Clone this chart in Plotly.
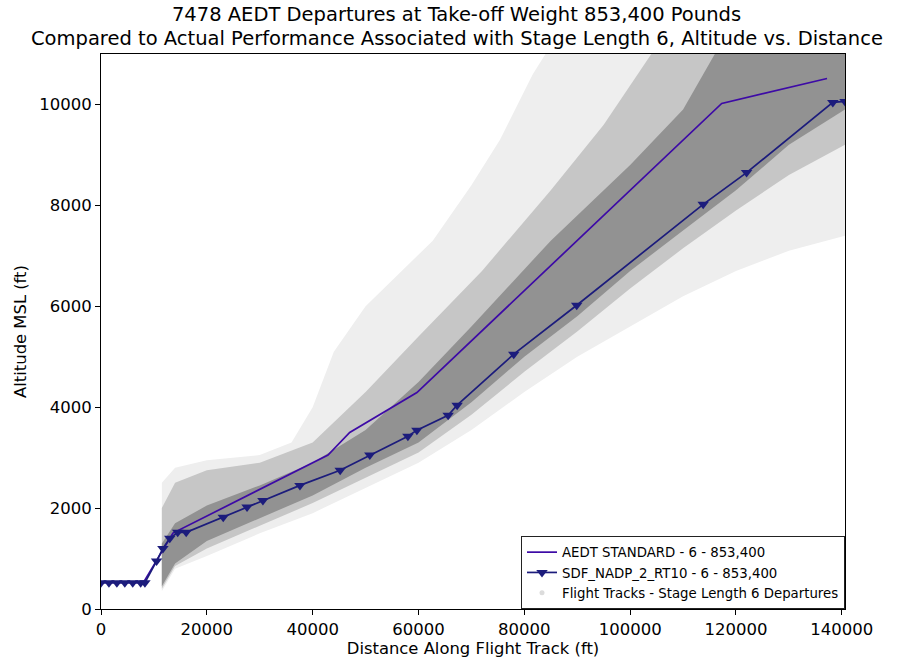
import plotly.graph_objects as go

# ---- data ----
aedt_dist = [0, 8000, 13600, 42900, 47000, 59700, 117300, 137200]
aedt_alt = [520, 520, 1505, 3050, 3500, 4290, 10020, 10515]

sdf_dist = [0, 1500, 3000, 4500, 6000, 7500, 8300, 10500, 11700, 13000, 14500, 16100,
            23100, 27600, 30600, 37600, 45200, 50800, 58000, 59700, 65600, 67300,
            78000, 89900, 113800, 122000, 138300, 140600]
sdf_alt = [520, 520, 520, 520, 520, 520, 520, 950, 1200, 1400, 1520, 1520,
           1820, 2020, 2150, 2450, 2750, 3050, 3425, 3545, 3840, 4040,
           5050, 6020, 8020, 8650, 10040, 10060]

# flight-track cloud envelopes (distance, altitude)
band_x = [11500, 14000, 20000, 30000, 40000, 50000, 60000, 70000, 80000, 90000,
          100000, 110000, 120000, 130000, 140600]
halo_low = [350, 800, 1050, 1500, 1900, 2400, 2900, 3550, 4300, 5000,
            5600, 6200, 6700, 7100, 7400]
mid_low = [400, 850, 1200, 1650, 2100, 2600, 3100, 3850, 4700, 5500,
           6350, 7150, 7900, 8600, 9200]
core_low = [450, 900, 1350, 1800, 2250, 2800, 3300, 4100, 5000, 5800,
            6700, 7500, 8300, 9200, 9900]

halo_up_x = [11500, 14000, 20000, 30000, 36000, 40000, 44000, 50000, 62700, 70000,
             75400, 81600, 84000, 140600]
halo_up = [2500, 2800, 2950, 3050, 3300, 4000, 5100, 6000, 7300, 8400,
           9300, 10600, 11000, 11000]
mid_up_x = [11500, 14000, 20000, 30000, 40000, 50000, 60000, 72000, 85000, 95000,
            104000, 140600]
mid_up = [2000, 2500, 2750, 2900, 3300, 4300, 5400, 6700, 8300, 9600, 11000, 11000]
core_up_x = [11500, 14000, 20000, 30000, 40000, 50000, 60000, 70000, 85000, 100000,
             110000, 116000, 140600]
core_up = [1300, 1700, 2050, 2450, 2900, 3550, 4500, 5600, 7300, 8800, 9900, 11000, 11000]

x_ticks = [0, 20000, 40000, 60000, 80000, 100000, 120000, 140000]
y_ticks = [0, 2000, 4000, 6000, 8000, 10000]

title_line1 = "7478 AEDT Departures at Take-off Weight 853,400 Pounds"
title_line2 = "Compared to Actual Performance Associated with Stage Length 6, Altitude vs. Distance"

fig = go.Figure()


def band(up_x, up_y, low_x, low_y, color):
    xs = list(up_x) + list(reversed(low_x)) + [up_x[0]]
    ys = list(up_y) + list(reversed(low_y)) + [up_y[0]]
    fig.add_trace(go.Scatter(x=xs, y=ys, mode="lines", fill="toself",
                             fillcolor=color, line=dict(width=0),
                             hoverinfo="skip", showlegend=False))


band(halo_up_x, halo_up, band_x, halo_low, "#eeeeee")
band(mid_up_x, mid_up, band_x, mid_low, "#c6c6c6")
band(core_up_x, core_up, band_x, core_low, "#929292")

fig.add_trace(go.Scatter(x=aedt_dist, y=aedt_alt, mode="lines",
                         line=dict(color="#3d0aa6", width=1.7),
                         name="AEDT STANDARD - 6 - 853,400"))
fig.add_trace(go.Scatter(x=sdf_dist, y=sdf_alt, mode="lines+markers",
                         line=dict(color="#1c1c7c", width=1.7),
                         marker=dict(symbol="triangle-down", size=10, color="#1c1c7c"),
                         name="SDF_NADP_2_RT10 - 6 - 853,400"))
fig.add_trace(go.Scatter(x=[None], y=[None], mode="markers",
                         marker=dict(color="#dcdcdc", size=5),
                         name="Flight Tracks - Stage Length 6 Departures"))

font = "DejaVu Sans"
W, H = 913, 664
fig.update_layout(
    width=W, height=H,
    margin=dict(l=101, r=68, t=54, b=55),
    paper_bgcolor="white", plot_bgcolor="white",
    font=dict(family=font, size=16, color="black"),
    title=dict(text=title_line1,
               x=0.5, xanchor="center", xref="container",
               y=1 - 14 / H, yanchor="middle", yref="container",
               font=dict(family=font, size=19.5)),
    showlegend=True,
    legend=dict(x=1, xanchor="right", y=0, yanchor="bottom",
                bgcolor="rgba(255,255,255,0.85)", bordercolor="#222", borderwidth=1,
                font=dict(family=font, size=13.3), tracegroupgap=0,
                itemwidth=30),
)
fig.add_annotation(text=title_line2, xref="paper", yref="paper",
                   x=(456.5 - 101) / 744, y=1 + 16 / 555,
                   xanchor="center", yanchor="middle", showarrow=False,
                   font=dict(family=font, size=19.5, color="black"))
fig.update_xaxes(range=[0, 140600], tickvals=x_ticks, ticktext=[str(v) for v in x_ticks],
                 showgrid=False, zeroline=False, showline=True, linecolor="black",
                 linewidth=1, mirror=True, ticks="outside", ticklen=5, tickcolor="black",
                 title=dict(text="Distance Along Flight Track (ft)", standoff=2,
                            font=dict(size=16.4)),
                 tickfont=dict(size=16.5))
fig.update_yaxes(range=[0, 11000], tickvals=y_ticks, ticktext=[str(v) for v in y_ticks],
                 showgrid=False, zeroline=False, showline=True, linecolor="black",
                 linewidth=1, mirror=True, ticks="outside", ticklen=5, tickcolor="black",
                 title=dict(text="Altitude MSL (ft)", standoff=8, font=dict(size=16.4)),
                 tickfont=dict(size=16.5))

fig.write_html("out.html", config={"displayModeBar": False},
               post_script="document.body.style.margin='0';")
